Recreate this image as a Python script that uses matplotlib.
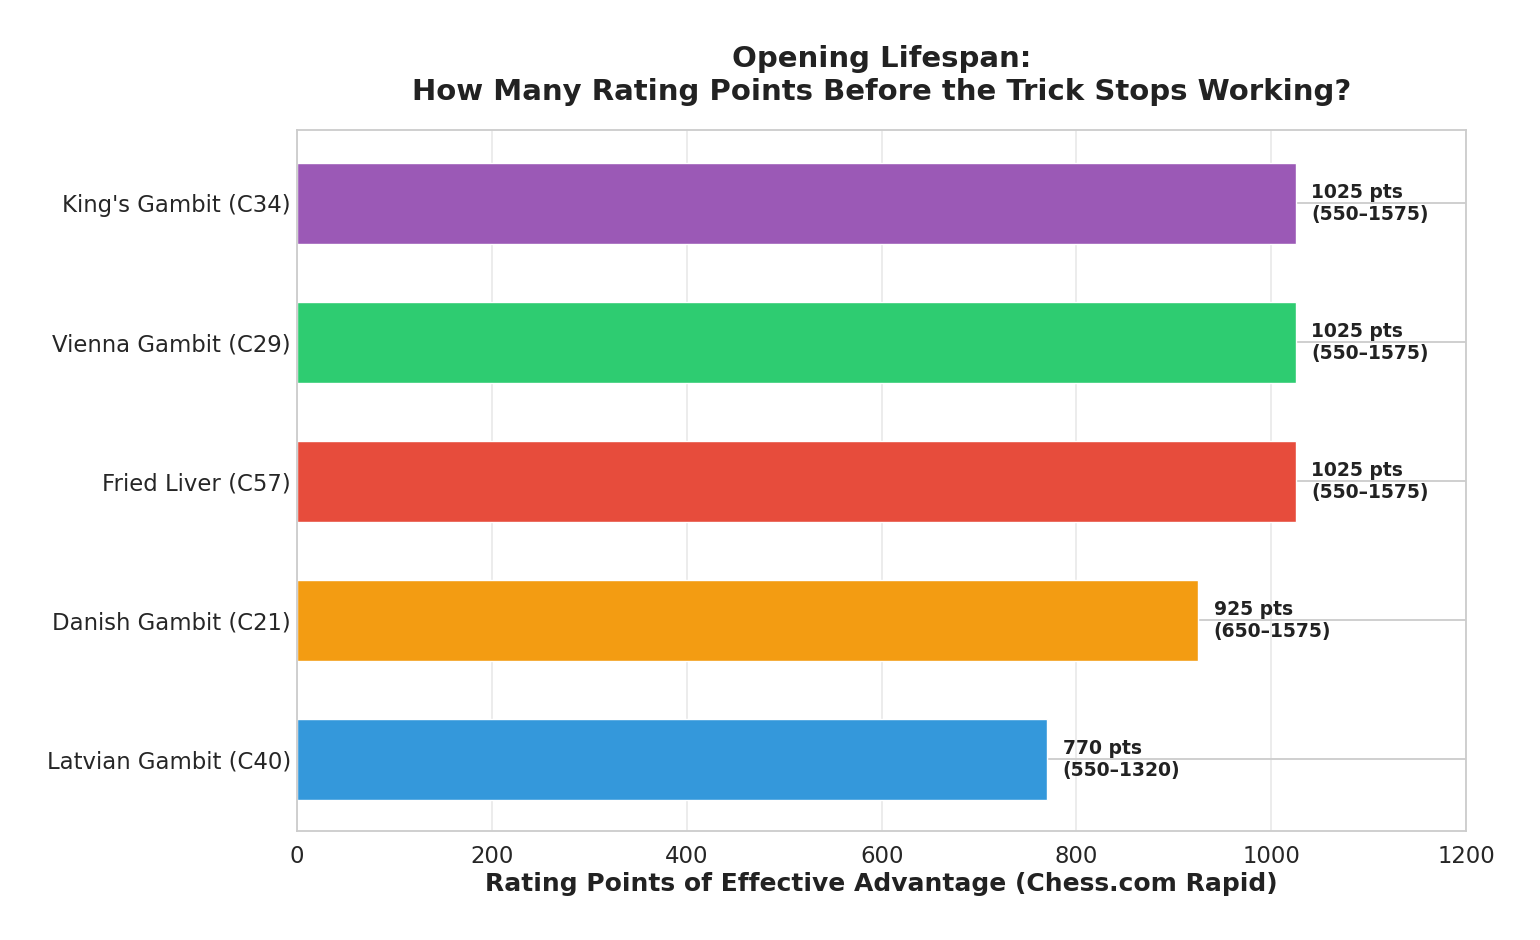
import matplotlib
matplotlib.use("Agg")
import matplotlib.pyplot as plt
import seaborn as sns

sns.set_theme(style="whitegrid")
plt.rcParams['font.family'] = ['DejaVu Sans']

openings = ["Latvian Gambit (C40)", "Danish Gambit (C21)", "Fried Liver (C57)",
            "Vienna Gambit (C29)", "King's Gambit (C34)"]
lifespan = [770, 925, 1025, 1025, 1025]
low = [550, 650, 550, 550, 550]
high = [1320, 1575, 1575, 1575, 1575]
colors = ["#3498db", "#f39c12", "#e74c3c", "#2ecc71", "#9b59b6"]

fig, ax = plt.subplots(figsize=(15.4, 9.4), dpi=100)
fig.subplots_adjust(left=0.193, right=0.952, top=0.8615, bottom=0.1155)

y = list(range(len(openings)))
ax.barh(y, lifespan, height=0.58, color=colors, zorder=2)
for yi, v, lo, hi in zip(y, lifespan, low, high):
    ax.text(v + 16, yi, f"{v} pts\n({lo}\u2013{hi})", va="center", ha="left",
            fontsize=13.5, fontweight="bold", color="#222222", zorder=3)

ax.set_yticks(y)
ax.set_yticklabels(openings, fontsize=16.4, color="#262626")
ax.tick_params(axis='y', length=0, pad=4.5)
ax.set_xlim(0, 1200)
ax.set_ylim(-0.518, 4.525)
ax.tick_params(axis='x', labelsize=16.4, colors="#262626")
ax.grid(axis='x', color="#ebebeb", linewidth=1.3, zorder=0)
ax.grid(axis='y', color="#cccccc", linewidth=1.3, zorder=0)
ax.set_axisbelow(True)
for s in ax.spines.values():
    s.set_color("#cccccc")
    s.set_linewidth(1.3)

ax.set_xlabel("Rating Points of Effective Advantage (Chess.com Rapid)",
              fontsize=18, fontweight="bold", color="#222222", labelpad=3.5)
ax.set_title("Opening Lifespan:\nHow Many Rating Points Before the Trick Stops Working?",
             fontsize=21, fontweight="bold", color="#222222", pad=22)

fig.savefig("out.png", dpi=100)
